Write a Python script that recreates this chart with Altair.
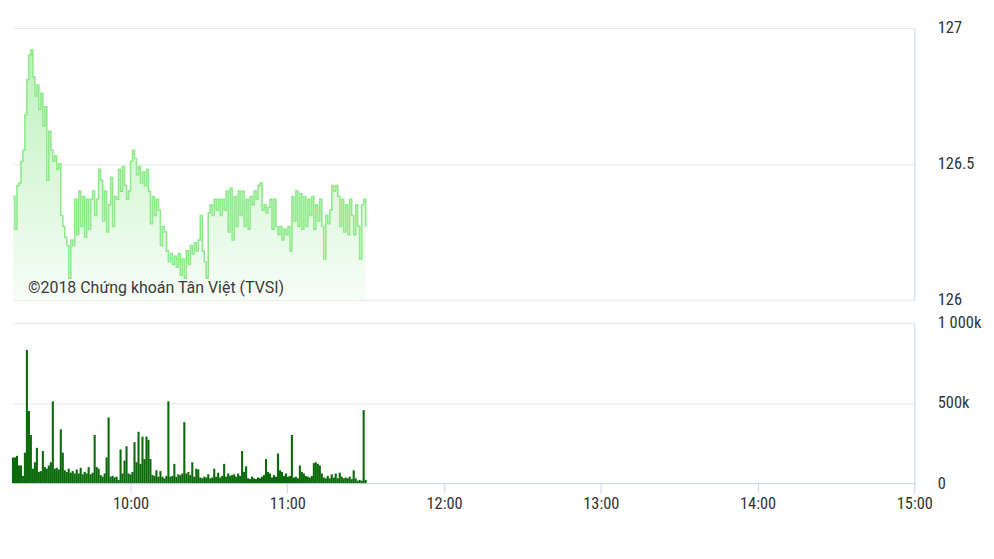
import altair as alt
import pandas as pd

# ---- data ----
session_start = "2018-01-02 09:15:00"
session_last = "2018-01-02 11:30:00"

price = [
    126.38, 126.26, 126.42, 126.43, 126.51, 126.55, 126.68, 126.81, 126.90, 126.92,
    126.82, 126.75, 126.79, 126.70, 126.76, 126.64, 126.71, 126.44, 126.62, 126.55,
    126.51, 126.53, 126.48, 126.50, 126.31, 126.27, 126.23, 126.20, 126.08, 126.22,
    126.20, 126.37, 126.24, 126.40, 126.27, 126.38, 126.23, 126.37, 126.26, 126.37,
    126.40, 126.31, 126.37, 126.48, 126.44, 126.29, 126.40, 126.25, 126.35, 126.45,
    126.27, 126.38, 126.37, 126.48, 126.40, 126.49, 126.42, 126.37, 126.40, 126.51,
    126.55, 126.52, 126.46, 126.49, 126.43, 126.47, 126.42, 126.48, 126.40, 126.28,
    126.38, 126.31, 126.37, 126.33, 126.20, 126.27, 126.25, 126.18, 126.14, 126.17,
    126.13, 126.16, 126.12, 126.17, 126.09, 126.15, 126.08, 126.18, 126.13, 126.20,
    126.17, 126.21, 126.18, 126.22, 126.31, 126.18, 126.14, 126.08, 126.32, 126.35,
    126.31, 126.37, 126.33, 126.37, 126.31, 126.37, 126.33, 126.40, 126.25, 126.41,
    126.22, 126.38, 126.27, 126.40, 126.31, 126.40, 126.27, 126.37, 126.26, 126.38,
    126.35, 126.40, 126.37, 126.42, 126.43, 126.33, 126.35, 126.32, 126.34, 126.37,
    126.26, 126.37, 126.27, 126.24, 126.27, 126.22, 126.26, 126.24, 126.27, 126.18,
    126.38, 126.29, 126.40, 126.27, 126.39, 126.26, 126.38, 126.27, 126.37, 126.31,
    126.38, 126.26, 126.35, 126.29, 126.37, 126.27, 126.15, 126.31, 126.28, 126.33,
    126.42, 126.40, 126.42, 126.38, 126.27, 126.37, 126.25, 126.35, 126.24, 126.37,
    126.31, 126.24, 126.35, 126.27, 126.15, 126.35, 126.37, 126.27,
]

volume_k = [
    160, 160, 170, 110, 110, 45, 190, 830, 450, 300,
    90, 130, 220, 70, 75, 200, 100, 90, 110, 130,
    510, 90, 95, 85, 335, 190, 80, 70, 90, 65,
    75, 60, 85, 60, 95, 55, 70, 60, 100, 55,
    65, 300, 100, 90, 50, 40, 60, 160, 410, 40,
    45, 35, 40, 20, 210, 60, 140, 230, 60, 55,
    70, 255, 130, 320, 120, 290, 150, 290, 270, 150,
    50, 45, 80, 40, 75, 40, 30, 45, 510, 40,
    45, 120, 40, 55, 50, 60, 380, 60, 70, 50,
    130, 40, 90, 85, 35, 30, 40, 35, 55, 30,
    35, 90, 40, 65, 35, 45, 120, 40, 60, 45,
    50, 55, 40, 60, 45, 200, 70, 105, 30, 25,
    40, 30, 25, 35, 30, 40, 50, 150, 70, 60,
    35, 50, 40, 185, 80, 70, 45, 60, 40, 45,
    300, 35, 40, 30, 110, 70, 60, 45, 40, 35,
    45, 125, 130, 120, 110, 60, 35, 30, 45, 30,
    55, 35, 60, 30, 65, 40, 30, 35, 30, 40,
    25, 80, 30, 15, 20, 15, 455, 20,
]

hour_ticks = [10, 11, 12, 13, 14, 15]
price_ticks = [126, 126.5, 127]
volume_ticks = [0, 500, 1000]

watermark = ["©2018 Chứng khoán Tân Việt (TVSI)"]
watermark_time = ["2018-01-02T09:20:45"]
watermark_price = [126.025]

# ---- tables ----
times = pd.date_range(session_start, session_last, periods=len(price))
df = pd.DataFrame({
    "t": times.strftime("%Y-%m-%dT%H:%M:%S"),
    "price": price,
    "vol": volume_k,
})
wm = pd.DataFrame({"t": watermark_time, "p": watermark_price, "label": watermark})

# ---- styling ----
AXIS_FONT = "Liberation Sans Narrow, Roboto Condensed, Roboto, sans-serif"
LABEL_COLOR = "#333333"
AXIS_LINE = "#ccd6eb"
GRID = "#e6e6e6"

def dt(h, m=0):
    return alt.DateTime(year=2018, month=1, date=2, hours=h, minutes=m)

xscale = alt.Scale(domain=[dt(9, 15), dt(15, 0)], padding=0)

y_top_axis = alt.Axis(
    orient="right", values=price_ticks, format="~g", title=None,
    grid=True, gridColor=GRID, ticks=False, domain=True, domainColor=AXIS_LINE,
    labelPadding=23, labelBaseline="middle",
)
y_bot_axis = alt.Axis(
    orient="right", values=volume_ticks, title=None,
    labelExpr="datum.value == 0 ? '0' : (datum.value == 1000 ? '1 000k' : datum.value + 'k')",
    grid=True, gridColor=GRID, ticks=False, domain=True, domainColor=AXIS_LINE,
    labelPadding=23, labelBaseline="middle",
)
x_axis = alt.Axis(
    values=[dt(h) for h in hour_ticks], format="%H:%M", title=None, grid=False,
    domainColor=AXIS_LINE, tickColor=AXIS_LINE, tickSize=10, labelPadding=3,
    labelFlush=False,
)

fill = alt.Gradient(
    gradient="linear",
    stops=[alt.GradientStop(color="#bdf2bd", offset=0),
           alt.GradientStop(color="#f7fdf7", offset=1)],
    x1=1, x2=1, y1=0, y2=1,
)

ytop = alt.Y("price:Q", scale=alt.Scale(domain=[126, 127], zero=False), axis=y_top_axis)

area = alt.Chart(df).mark_area(interpolate="step-after", color=fill).encode(
    x=alt.X("t:T", scale=xscale, axis=None),
    y=ytop,
    y2=alt.datum(126),
)
line = alt.Chart(df).mark_line(interpolate="step-after", color="#8fea8b", strokeWidth=1.6).encode(
    x=alt.X("t:T", scale=xscale, axis=None),
    y=ytop,
)
text = alt.Chart(wm).mark_text(
    align="left", baseline="alphabetic", font="Roboto", fontSize=16, color="#3a3a3a",
).encode(
    x=alt.X("t:T", scale=xscale, axis=None),
    y=alt.Y("p:Q", scale=alt.Scale(domain=[126, 127], zero=False), axis=y_top_axis),
    text="label:N",
)
top = alt.layer(area, line, text).properties(width=905, height=273)

bars = alt.Chart(df).mark_bar(color="#0b6b0b", width=2.1).encode(
    x=alt.X("t:T", scale=xscale, axis=x_axis),
    y=alt.Y("vol:Q", scale=alt.Scale(domain=[0, 1000]), axis=y_bot_axis),
).properties(width=905, height=161)

chart = alt.vconcat(top, bars, spacing=23, bounds="flush").properties(
    padding={"left": 1, "top": 11, "right": 5, "bottom": 5},
).configure_view(stroke=None).configure_axis(
    labelFont=AXIS_FONT, labelFontSize=16.5, labelColor=LABEL_COLOR,
)

chart.save("out.html", embed_options={"renderer": "svg", "actions": False})
